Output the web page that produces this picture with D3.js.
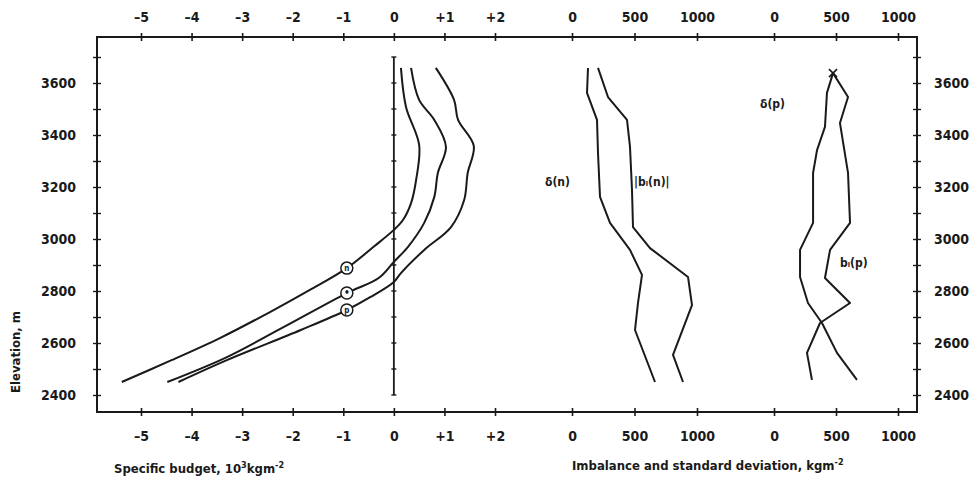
<!DOCTYPE html>
<html>
<head>
<meta charset="utf-8">
<script src="https://cdn.jsdelivr.net/npm/d3@7"></script>
<style>
	body { margin: 0; background: #fff; }
	svg text { font-family: "DejaVu Sans Condensed", "DejaVu Sans", sans-serif; font-weight: bold; fill: #1a1a1a; }
</style>
</head>
<body>
<svg id="chart" width="973" height="479"></svg>
<script>
// elevation ticks (m)
const ELEV_TICKS = [2400, 2600, 2800, 3000, 3200, 3400, 3600],
	ELEV_MINOR = d3.range(2400, 3701, 100);

// specific budget, 10^3 kg m^-2  [elevation, value]
const budgetN = [[3658, 0.14], [3508, 0.24], [3362, 0.5], [3227, 0.44], [3138, 0.34], [3073, 0.18], [3035, 0], [2970, -0.4], [2888, -0.93], [2804, -1.66], [2719, -2.45], [2619, -3.44], [2531, -4.43], [2450, -5.38]],
	budgetB = [[3658, 0.34], [3535, 0.5], [3458, 0.8], [3354, 1.03], [3254, 0.87], [3162, 0.8], [3062, 0.6], [2970, 0.28], [2912, 0], [2850, -0.3], [2792, -0.93], [2658, -2.21], [2546, -3.3], [2450, -4.48]],
	budgetP = [[3658, 0.83], [3535, 1.19], [3458, 1.27], [3358, 1.58], [3254, 1.46], [3150, 1.39], [3046, 1.13], [2958, 0.6], [2869, 0.14], [2835, 0], [2777, -0.46], [2727, -0.93], [2650, -1.84], [2535, -3.29], [2450, -4.26]];

// imbalance and standard deviation, kg m^-2
const sigmaN = [[3658, 128], [3562, 120], [3458, 200], [3331, 208], [3162, 224], [3062, 304], [2958, 464], [2862, 560], [2754, 528], [2650, 504], [2450, 664]],
	imbalN = [[3658, 208], [3546, 288], [3458, 440], [3354, 464], [3188, 480], [3046, 488], [2965, 624], [2854, 928], [2746, 960], [2554, 808], [2450, 888]],
	sigmaP = [[3638, 476], [3562, 427], [3431, 411], [3342, 347], [3254, 315], [3062, 315], [2958, 210], [2854, 210], [2754, 274], [2677, 387], [2562, 508], [2458, 669]],
	imbalP = [[3638, 476], [3546, 597], [3446, 532], [3254, 597], [3062, 613], [2958, 452], [2850, 411], [2754, 613], [2677, 371], [2562, 266], [2458, 306]];

// circled markers on the budget curves: [elevation, value, symbol]
const budgetMarks = [[2888, -0.93, 'n'], [2792, -0.93, '•'], [2727, -0.93, 'p']];

const BUDGET_TICKS = [-5, -4, -3, -2, -1, 0, 1, 2],
	IMBAL_TICKS = [0, 500, 1000];

const svg = d3.select('#chart'),
	frameL = 97, frameR = 917, frameT = 37, frameB = 412,
	ink = '#1a1a1a';

const y = d3.scaleLinear().domain([2400, 3600]).range([395, 83]),
	xB = d3.scaleLinear().domain([-5, 2]).range([141, 495]),
	xN = d3.scaleLinear().domain([0, 1000]).range([572, 697]),
	xP = d3.scaleLinear().domain([0, 1000]).range([774, 898]);

const fmtBudget = v => v > 0 ? '+' + v : (v < 0 ? '–' + Math.abs(v) : '0');

// frame
svg.append('path')
	.attr('d', `M${frameL},${frameT}H${frameR}V${frameB}H${frameL}Z`)
	.attr('fill', 'none')
	.attr('stroke', ink)
	.attr('stroke-width', 2);

// top and bottom axes: ticks crossing the frame line
function hAxis(scale, ticks, fmt) {
	[[frameT, 'axisTop', 22], [frameB, 'axisBottom', 441]].forEach(([yy, kind, ty]) => {
		let g = svg.append('g').attr('transform', `translate(0,${yy})`)
			.call(d3[kind](scale).tickValues(ticks).tickSize(0).tickFormat(''));
		g.select('.domain').remove();
		g.selectAll('.tick').append('line')
			.attr('y1', -4).attr('y2', 4)
			.attr('stroke', ink).attr('stroke-width', 1.6);
		g.selectAll('.tick').append('text')
			.attr('y', ty - yy)
			.attr('text-anchor', 'middle')
			.attr('font-size', 14)
			.text(fmt);
	});
}
hAxis(xB, BUDGET_TICKS, fmtBudget);
hAxis(xN, IMBAL_TICKS, d => d);
hAxis(xP, IMBAL_TICKS, d => d);

// left and right elevation axes
[[frameL, 'axisLeft', -21, 'end'], [frameR, 'axisRight', 17, 'start']].forEach(([xx, kind, tx, anchor]) => {
	let g = svg.append('g').attr('transform', `translate(${xx},0)`)
		.call(d3[kind](y).tickValues(ELEV_MINOR).tickSize(0).tickFormat(''));
	g.select('.domain').remove();
	g.selectAll('.tick').append('line')
		.attr('x1', -4).attr('x2', 4)
		.attr('stroke', ink).attr('stroke-width', 1.4);
	g.selectAll('.tick').filter(d => ELEV_TICKS.includes(d)).append('text')
		.attr('x', tx)
		.attr('dy', '0.35em')
		.attr('text-anchor', anchor)
		.attr('font-size', 14)
		.text(d => d);
});

// zero line of the budget panel with its small ticks
let zx = xB(0);
svg.append('line')
	.attr('x1', zx).attr('x2', zx)
	.attr('y1', y(3700)).attr('y2', y(2400))
	.attr('stroke', ink).attr('stroke-width', 1.8);
svg.append('g').selectAll('line')
	.data(ELEV_MINOR)
	.join('line')
	.attr('x1', zx - 2.5).attr('x2', zx + 2.5)
	.attr('y1', d => y(d)).attr('y2', d => y(d))
	.attr('stroke', ink).attr('stroke-width', 1.4);

// curves
function curve(data, xs) {
	svg.append('path')
		.datum(data)
		.attr('d', d3.line().x(d => xs(d[1])).y(d => y(d[0])).curve(d3.curveCatmullRom.alpha(0.5)))
		.attr('fill', 'none')
		.attr('stroke', ink)
		.attr('stroke-width', 2)
		.attr('stroke-linejoin', 'round');
}
curve(budgetN, xB);
curve(budgetB, xB);
curve(budgetP, xB);

function polyline(data, xs) {
	svg.append('path')
		.datum(data)
		.attr('d', d3.line().x(d => xs(d[1])).y(d => y(d[0])))
		.attr('fill', 'none')
		.attr('stroke', ink)
		.attr('stroke-width', 2)
		.attr('stroke-linejoin', 'round');
}
polyline(sigmaN, xN);
polyline(imbalN, xN);
polyline(sigmaP, xP);
polyline(imbalP, xP);

// circled markers
let marks = svg.append('g').selectAll('g')
	.data(budgetMarks)
	.join('g')
	.attr('transform', d => `translate(${xB(d[1])},${y(d[0])})`);
marks.append('circle')
	.attr('r', 6)
	.attr('fill', '#fff')
	.attr('stroke', ink)
	.attr('stroke-width', 1.5);
marks.append('text')
	.attr('text-anchor', 'middle')
	.attr('dy', '0.33em')
	.attr('font-size', d => d[2] === '•' ? 10 : 8)
	.text(d => d[2]);

// cross at top of the p-curves
let cx = xP(sigmaP[0][1]), cy = y(sigmaP[0][0]);
svg.append('path')
	.attr('d', `M${cx - 4},${cy - 4}L${cx + 4},${cy + 4}M${cx + 4},${cy - 4}L${cx - 4},${cy + 4}`)
	.attr('stroke', ink).attr('stroke-width', 1.6);

// curve labels
const labels = [
	[545, 186, 'δ(n)'],
	[634, 186, '|bᵢ(n)|'],
	[760, 108, 'δ(p)'],
	[840, 267, 'bᵢ(p)']
];
svg.append('g').selectAll('text')
	.data(labels)
	.join('text')
	.attr('x', d => d[0]).attr('y', d => d[1])
	.attr('font-size', 12)
	.text(d => d[2]);

// axis titles
svg.append('text')
	.attr('transform', 'translate(20,352) rotate(-90)')
	.attr('text-anchor', 'middle')
	.attr('font-size', 13)
	.text('Elevation, m');

let t1 = svg.append('text').attr('x', 114).attr('y', 473).attr('font-size', 13);
t1.append('tspan').text('Specific budget, 10');
t1.append('tspan').attr('dy', -5).attr('font-size', 9).text('3');
t1.append('tspan').attr('dy', 5).text('kgm');
t1.append('tspan').attr('dy', -5).attr('font-size', 9).text('-2');

let t2 = svg.append('text').attr('x', 572).attr('y', 470).attr('font-size', 13);
t2.append('tspan').text('Imbalance and standard deviation, kgm');
t2.append('tspan').attr('dy', -5).attr('font-size', 9).text('-2');
</script>
</body>
</html>
